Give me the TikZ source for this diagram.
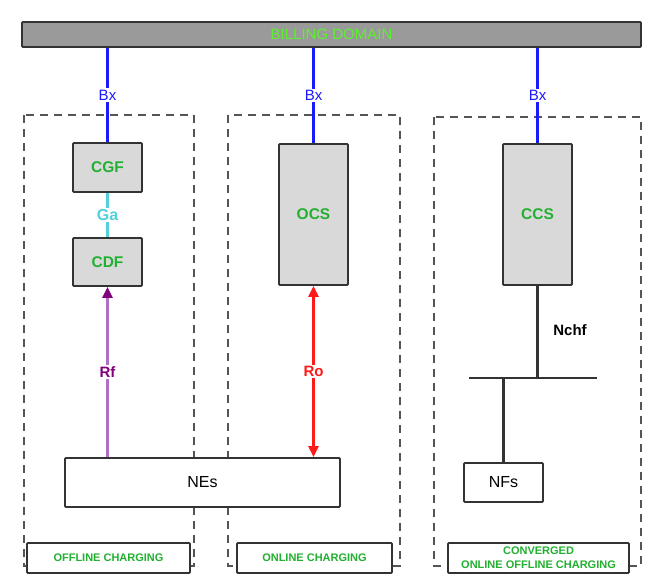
\documentclass[tikz,border=0pt]{standalone}
\usepackage{fontspec}
\setmainfont{Liberation Sans}
\usepackage{xcolor}
\usepackage{tikz}
\usetikzlibrary{calc,arrows.meta}
\definecolor{frame}{HTML}{555555}
\definecolor{edge}{HTML}{333333}
\definecolor{barbg}{HTML}{9A9A9A}
\definecolor{boxbg}{HTML}{D9D9D9}
\definecolor{green}{HTML}{22B030}
\definecolor{lgreen}{HTML}{5CF030}
\definecolor{bx}{HTML}{1A1AFF}
\definecolor{ga}{HTML}{55D0D8}
\definecolor{rfline}{HTML}{B070C8}
\definecolor{rf}{HTML}{800080}
\definecolor{ro}{HTML}{FF1A1A}
\tikzset{
  fn/.style={draw=edge, fill=boxbg, line width=1.8pt, rounded corners=1pt, minimum width=69pt,
    text=green, font=\bfseries\fontsize{15.5}{18}\selectfont},
  plain/.style={draw=edge, fill=white, line width=1.8pt, rounded corners=1pt,
    font=\fontsize{16}{18}\selectfont},
  zone/.style={draw=frame, dashed, dash pattern=on 8pt off 6pt, line width=1.8pt},
  tag/.style={draw=edge, fill=white, line width=1.8pt, rounded corners=1pt, minimum height=30pt,
    text=green, font=\bfseries\fontsize{11}{14}\selectfont, align=center},
  wire/.style={line width=2.2pt},
  bxl/.style={wire, draw=bx},
  lbl/.style={fill=white, inner sep=1.5pt, font=\fontsize{15}{17}\selectfont},
  blbl/.style={lbl, font=\bfseries\fontsize{15}{17}\selectfont}
}
\begin{document}
\begin{tikzpicture}[x=1pt,y=-1pt]
  \useasboundingbox (0,0) rectangle (655,587);
  % charging zones
  \draw[zone] (24,115) rectangle (194,566);
  \draw[zone] (228,115) rectangle (400,566);
  \draw[zone] (434,117) rectangle (641,566);
  % billing domain
  \node[draw=edge, fill=barbg, line width=1.8pt, rounded corners=1pt, minimum width=619pt, minimum height=25pt,
    text=lgreen, font=\fontsize{15}{17}\selectfont] (bd) at (331.5,34.5) {BILLING DOMAIN};
  % functions
  \node[fn, minimum height=49pt] (cgf) at (107.5,167.5) {CGF};
  \node[fn, minimum height=48pt] (cdf) at (107.5,262) {CDF};
  \node[fn, minimum height=141pt] (ocs) at (313.5,214.5) {OCS};
  \node[fn, minimum height=141pt] (ccs) at (537.5,214.5) {CCS};
  \node[plain, minimum width=275pt, minimum height=49pt] (nes) at (202.5,482.5) {NEs};
  \node[plain, minimum width=79pt, minimum height=39pt] (nfs) at (503.5,482.5) {NFs};
  % Bx
  \foreach \f in {cgf,ocs,ccs}
    \draw[bxl] (bd.south -| \f) -- node[lbl, text=bx] {Bx} (\f.north);
  % Ga
  \draw[wire, draw=ga] (cgf.south) -- node[blbl, text=ga, font=\bfseries\fontsize{16}{18}\selectfont] {Ga} (cdf.north);
  % Rf
  \draw[wire, draw=rfline, -{Triangle[length=11pt,width=10pt,color=rf]}] (nes.north -| cdf) -- node[blbl, text=rf] {Rf} (cdf.south);
  % Ro
  \draw[wire, draw=ro, {Triangle[length=11pt,width=10pt]}-{Triangle[length=11pt,width=10pt]}] (ocs.south) -- node[blbl, text=ro] {Ro} (nes.north -| ocs);
  % Nchf bus
  \coordinate (busL) at (469,378);
  \coordinate (busR) at (597,378);
  \draw[wire, draw=edge] (busL) -- (busR);
  \draw[wire, draw=edge] (ccs.south) -- (ccs.south |- busL);
  \draw[wire, draw=edge] (nfs.north) -- (nfs.north |- busL);
  \node[font=\bfseries\fontsize{15}{17}\selectfont] (nchf) at (570,330) {Nchf};
  % zone tags
  \node[tag, minimum width=163pt] (toff) at (108.5,558) {OFFLINE CHARGING};
  \node[tag, minimum width=155pt] (ton) at (314.5,558) {ONLINE CHARGING};
  \node[tag, minimum width=181pt, inner sep=1pt] (tconv) at (538.5,558) {CONVERGED\\ONLINE OFFLINE CHARGING};
\end{tikzpicture}
\end{document}
